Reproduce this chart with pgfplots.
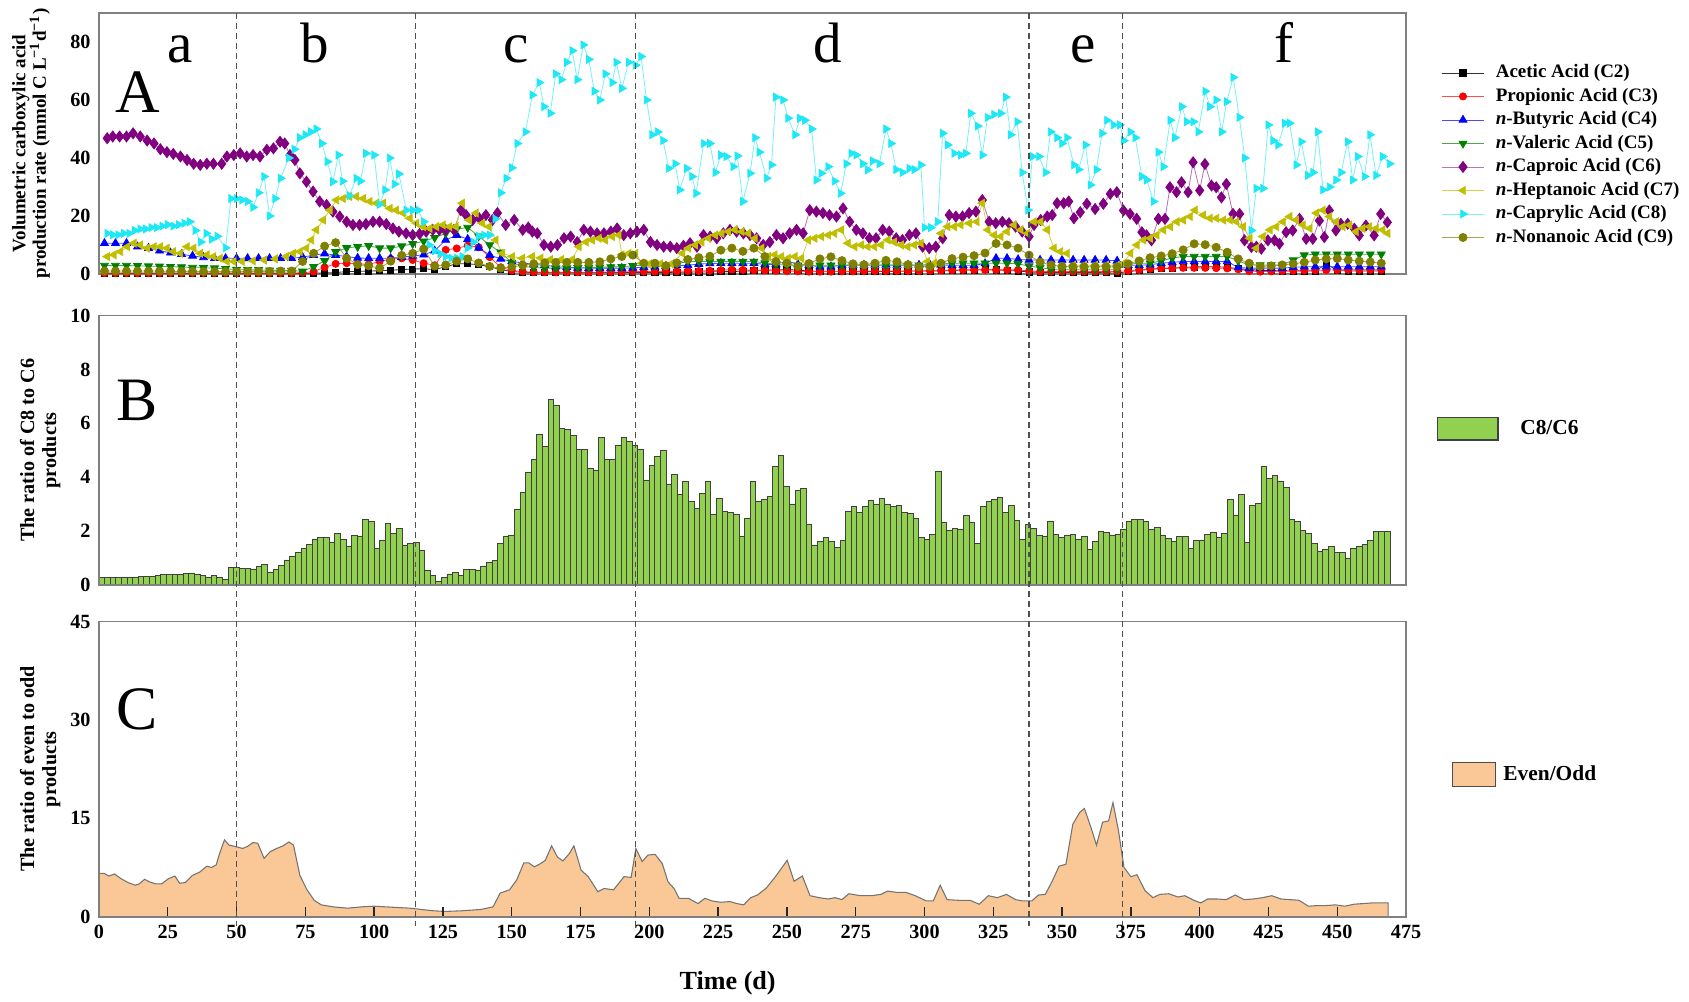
\documentclass[border=0pt]{standalone}
\usepackage{fontspec}
\setmainfont{Liberation Serif}
\usepackage{pgfplots}
\pgfplotsset{compat=1.18}
\usepackage{pgfplotstable}
\usetikzlibrary{calc}

\definecolor{cTwo}{HTML}{000000}
\definecolor{cThree}{HTML}{FF0000}
\definecolor{cFour}{HTML}{0000FF}
\definecolor{cFive}{HTML}{008000}
\definecolor{cSix}{HTML}{800080}
\definecolor{cSeven}{HTML}{BFBF00}
\definecolor{cEight}{HTML}{1EE8F5}
\definecolor{cNine}{HTML}{808000}
\definecolor{barGreen}{HTML}{92D050}
\definecolor{areaPeach}{HTML}{F9C896}
\definecolor{frameGray}{HTML}{808080}
\definecolor{vline}{HTML}{505050}

% low series, read every 4 d
\pgfplotstableread{
t c2 c3 c4 c5 c9
2 0.2 0.3 10.6 2.9 1.0
6 0.2 0.3 10.6 2.9 1.0
10 0.2 0.3 10.6 2.9 1.0
14 0.2 0.3 9.4 2.8 1.0
18 0.2 0.3 8.9 2.7 1.0
22 0.2 0.3 8.0 2.6 1.0
26 0.2 0.3 7.3 2.5 0.9
30 0.2 0.3 6.8 2.4 0.9
34 0.2 0.3 6.2 2.2 0.9
38 0.2 0.3 5.7 2.1 0.8
42 0.2 0.3 5.4 2.0 0.8
46 0.2 0.3 5.4 1.8 0.8
50 0.2 0.3 5.4 1.5 0.8
54 0.2 0.3 5.4 1.4 0.9
58 0.2 0.3 5.4 1.4 0.9
62 0.2 0.3 5.4 1.3 0.9
66 0.2 0.3 5.4 1.2 1.0
70 0.2 0.3 5.4 1.2 1.0
74 0.2 0.4 5.8 0.9 4.3
78 0.3 0.8 6.5 2.5 7.1
82 0.3 2.3 7.0 4.5 9.6
86 0.5 3.5 6.5 7.6 10.8
90 0.8 3.7 6.0 9.0 5.4
94 0.9 3.5 5.5 9.4 3.2
98 1.0 3.3 5.4 9.7 2.8
102 1.1 4.3 5.4 8.9 2.0
106 1.3 5.2 5.4 8.9 4.4
110 1.5 5.4 5.8 9.6 6.4
114 1.7 4.8 6.2 10.4 7.1
118 1.8 3.7 6.6 11.3 8.6
122 1.5 3.0 8.0 12.5 2.7
126 2.5 8.3 11.7 14.0 3.1
130 3.5 8.8 13.4 15.5 4.4
134 3.5 9.8 12.0 16.0 5.2
138 3.2 9.2 9.0 13.0 3.8
142 2.5 5.8 6.5 10.0 2.6
146 1.5 2.3 5.2 7.5 2.0
150 0.8 1.2 4.3 3.9 2.4
154 0.6 0.8 3.8 2.6 3.0
158 0.5 0.6 3.3 2.2 3.5
162 0.5 0.6 3.0 2.0 3.8
166 0.5 0.6 2.5 2.0 4.0
170 0.5 0.6 2.3 2.0 4.0
174 0.5 0.6 2.1 2.1 4.0
178 0.5 0.6 2.0 2.2 4.0
182 0.5 0.6 2.0 2.3 4.2
186 0.5 0.7 2.0 2.4 5.2
190 0.5 0.7 2.0 2.5 6.0
194 0.5 0.8 2.1 2.8 6.5
198 0.5 0.8 2.3 3.0 3.7
202 0.5 0.8 2.5 3.0 3.7
206 0.5 0.9 2.7 3.0 2.8
210 0.6 0.9 2.9 3.5 3.8
214 0.6 1.0 3.0 4.3 5.0
218 0.7 1.0 3.4 4.3 5.6
222 0.7 1.1 3.6 4.3 6.1
226 0.8 1.3 3.7 4.3 8.2
230 0.8 1.5 3.7 4.3 8.9
234 1.0 1.4 3.7 4.3 7.8
238 1.1 1.3 3.7 4.3 8.9
242 1.3 1.2 3.3 3.8 6.0
246 1.4 1.1 3.3 3.3 4.3
250 1.5 1.0 4.5 3.0 3.7
254 1.3 0.9 3.3 3.0 2.6
258 1.0 0.8 3.0 3.0 3.6
262 0.9 0.8 2.5 3.0 5.2
266 0.9 0.8 2.5 3.0 5.9
270 0.8 0.9 3.0 3.0 4.6
274 0.8 0.9 3.1 3.0 3.5
278 0.8 1.0 3.1 3.0 3.2
282 0.8 1.0 3.1 3.0 3.7
286 0.9 1.0 3.1 3.0 4.7
290 0.9 1.0 3.1 3.0 4.2
294 1.0 1.0 3.1 3.0 3.2
298 1.0 1.0 3.1 3.0 2.5
302 1.0 1.1 3.1 3.2 2.6
306 1.1 1.2 3.1 3.4 3.7
310 1.2 1.3 3.0 3.7 5.3
314 1.3 1.4 3.0 3.7 5.8
318 1.4 1.4 3.0 3.7 6.3
322 1.5 1.4 3.6 3.7 7.2
326 1.4 1.4 5.4 3.7 10.5
330 1.2 1.4 5.4 3.7 10.0
334 1.0 1.4 5.0 3.5 8.9
338 0.7 1.0 4.8 2.7 6.5
342 0.5 0.8 4.8 2.2 4.1
346 0.5 0.8 4.8 1.6 3.1
350 0.5 0.8 4.8 1.6 2.6
354 0.5 0.8 4.8 1.6 2.5
358 0.5 0.8 4.8 1.6 2.5
362 0.5 0.8 4.8 1.6 2.5
366 0.4 0.8 4.8 1.6 2.5
370 0.3 0.9 4.5 1.6 2.5
374 0.8 1.1 3.0 3.3 3.5
378 1.2 1.4 3.0 3.7 4.5
382 1.6 1.8 3.2 3.7 5.6
386 1.8 2.0 3.7 4.5 6.2
390 2.0 2.0 4.0 5.5 7.0
394 2.2 2.1 4.3 6.0 8.3
398 2.4 2.1 4.3 6.0 10.4
402 2.5 2.1 4.3 6.0 10.1
406 2.5 2.0 4.3 6.0 9.2
410 2.3 1.9 4.3 6.0 7.5
414 1.8 1.6 2.2 4.5 5.2
418 1.5 1.0 2.0 3.1 3.7
422 1.3 0.8 2.0 3.1 2.6
426 1.1 0.9 2.0 3.1 2.8
430 1.0 1.0 2.0 3.1 3.1
434 1.0 1.1 2.3 4.8 3.5
438 1.0 1.2 2.5 6.5 4.0
442 1.0 1.3 2.5 6.8 4.8
446 3.5 1.3 2.5 6.8 5.2
450 1.2 1.4 2.5 6.8 5.3
454 1.0 1.4 2.5 6.8 4.8
458 1.0 1.4 2.5 6.8 4.4
462 1.0 1.4 2.5 6.8 4.1
466 1.0 1.4 2.5 6.8 3.7
}\lowtab

% C8/C6 ratio
\pgfplotstableread{
t r
1.00 0.27
3.04 0.27
5.08 0.28
7.12 0.28
9.16 0.30
11.20 0.30
13.24 0.30
15.28 0.32
17.32 0.32
19.36 0.33
21.40 0.35
23.44 0.38
25.48 0.40
27.52 0.40
29.56 0.40
31.60 0.42
33.64 0.45
35.68 0.40
37.72 0.37
39.76 0.30
41.80 0.36
43.84 0.30
45.88 0.22
47.92 0.64
49.96 0.64
52.00 0.62
54.04 0.62
56.08 0.60
58.12 0.68
60.16 0.77
62.20 0.46
64.24 0.58
66.28 0.74
68.32 0.93
70.36 1.08
72.40 1.20
74.44 1.36
76.48 1.52
78.52 1.71
80.56 1.76
82.60 1.76
84.64 1.60
86.68 1.92
88.72 1.71
90.76 1.45
92.80 1.85
94.84 1.82
96.88 2.42
98.92 2.35
100.96 1.36
103.00 1.65
105.04 2.29
107.08 1.92
109.12 2.09
111.16 1.49
113.20 1.55
115.24 1.57
117.28 1.30
119.32 0.56
121.36 0.37
123.40 0.12
125.44 0.28
127.48 0.41
129.52 0.46
131.56 0.37
133.60 0.58
135.64 0.58
137.68 0.56
139.72 0.68
141.76 0.84
143.80 0.90
145.84 1.55
147.88 1.82
149.92 1.86
151.96 2.81
154.00 3.43
156.04 4.20
158.08 4.67
160.12 5.60
162.16 5.14
164.20 6.90
166.24 6.65
168.28 5.82
170.32 5.76
172.36 5.54
174.40 5.04
176.44 5.02
178.48 4.34
180.52 4.25
182.56 5.48
184.60 4.65
186.64 4.65
188.68 5.20
190.72 5.49
192.76 5.33
194.80 5.20
196.84 5.02
198.88 3.90
200.92 4.44
202.96 4.77
205.00 5.00
207.04 3.72
209.08 4.09
211.12 3.37
213.16 3.84
215.20 3.10
217.24 2.85
219.28 3.40
221.32 3.84
223.36 2.63
225.40 3.22
227.44 2.73
229.48 2.70
231.52 2.63
233.56 1.82
235.60 2.48
237.64 3.84
239.68 3.10
241.72 3.18
243.76 3.28
245.80 4.40
247.84 4.81
249.88 3.66
251.92 3.01
253.96 3.51
256.00 3.57
258.04 2.27
260.08 1.49
262.12 1.61
264.16 1.76
266.20 1.61
268.24 1.40
270.28 1.65
272.32 2.75
274.36 2.91
276.40 2.70
278.44 2.91
280.48 3.16
282.52 3.01
284.56 3.20
286.60 3.01
288.64 2.91
290.68 2.95
292.72 2.70
294.76 2.66
296.80 2.48
298.84 1.76
300.88 1.70
302.92 1.88
304.96 4.21
307.00 2.32
309.04 2.02
311.08 2.10
313.12 2.08
315.16 2.57
317.20 2.32
319.24 1.55
321.28 2.91
323.32 3.10
325.36 3.18
327.40 3.25
329.44 2.70
331.48 2.97
333.52 2.39
335.56 1.70
337.60 2.26
339.64 2.10
341.68 1.86
343.72 1.82
345.76 2.38
347.80 1.88
349.84 1.76
351.88 1.83
353.92 1.88
355.96 1.71
358.00 1.80
360.04 1.33
362.08 1.61
364.12 2.00
366.16 1.96
368.20 1.86
370.24 1.88
372.28 2.08
374.32 2.35
376.36 2.42
378.40 2.42
380.44 2.35
382.48 2.07
384.52 2.13
386.56 1.86
388.60 1.73
390.64 1.61
392.68 1.80
394.72 1.80
396.76 1.36
398.80 1.67
400.84 1.65
402.88 1.88
404.92 1.96
406.96 1.77
409.00 1.90
411.04 3.18
413.08 2.57
415.12 3.37
417.16 1.57
419.20 2.95
421.24 3.04
423.28 4.40
425.32 3.97
427.36 4.06
429.40 3.84
431.44 3.62
433.48 2.44
435.52 2.35
437.56 2.02
439.60 1.92
441.64 1.55
443.68 1.24
445.72 1.33
447.76 1.43
449.80 1.21
451.84 1.21
453.88 0.99
455.92 1.36
457.96 1.45
460.00 1.52
462.04 1.67
464.08 1.98
466.12 1.98
468.16 1.98
}\ratiotab

% even/odd ratio
\pgfplotstableread{
t e
0 6.6
1.9 6.6
3.6 6.2
5.7 6.5
8.0 5.8
10.6 5.2
13.2 4.8
14.6 5.0
16.6 5.7
18.4 5.3
20.6 5.0
22.7 5.0
25.3 5.8
27.6 6.2
29.3 5.1
31.4 5.2
34.0 6.3
36.6 6.8
39.2 7.7
40.9 7.5
42.6 7.9
43.8 9.6
45.6 11.7
47.3 10.9
49.6 10.7
52.2 10.4
53.9 10.7
56.0 11.3
57.7 11.2
60.0 8.9
62.2 9.9
64.6 10.4
66.9 10.8
69.0 11.4
70.7 10.9
73.0 6.3
75.6 4.1
78.2 2.5
80.8 1.8
85.1 1.5
90.3 1.3
95.5 1.5
99.8 1.6
104.2 1.5
108.5 1.4
112.8 1.3
117.2 1.1
121.5 0.9
125.8 0.8
131.9 0.9
138.8 1.1
143.2 1.5
145.8 3.6
149.2 4.1
151.8 5.6
154.4 8.2
156.2 8.2
158.2 7.6
160.5 8.1
162.2 8.6
164.5 10.8
166.6 9.1
168.6 8.5
170.9 9.6
172.6 10.8
175.2 7.1
177.8 6.1
181.3 3.8
183.5 4.3
187.0 4.1
190.8 6.1
193.4 6.0
195.1 10.4
197.4 8.4
199.5 9.4
202.1 9.5
204.7 8.1
206.8 5.3
209.0 4.3
210.8 2.8
214.2 2.8
217.7 2.0
220.2 2.8
222.8 2.4
226.0 2.2
229.3 2.3
231.8 2.0
234.3 1.8
236.8 2.9
239.3 3.3
242.6 4.4
246.0 6.2
250.1 8.6
252.6 5.4
255.6 6.2
258.4 3.2
261.7 2.9
265.0 2.7
267.5 2.9
270.0 2.6
272.5 3.5
276.7 3.2
280.8 3.2
284.1 3.4
286.6 3.9
290.0 3.7
293.3 3.7
296.6 3.2
300.7 2.4
303.2 2.4
305.7 4.8
308.2 2.6
312.4 2.5
316.5 2.5
319.9 1.9
323.2 3.2
326.5 2.9
329.8 3.4
333.1 2.6
335.6 2.4
339.0 2.4
341.4 3.3
343.9 3.4
346.4 5.4
348.9 7.7
351.4 8.0
353.9 14.1
356.4 15.9
358.1 16.5
360.5 13.6
362.5 10.9
364.7 14.4
366.9 14.6
368.5 17.4
370.5 13.1
372.5 7.5
375.0 6.1
377.2 6.4
380.1 4.0
383.0 2.9
385.5 3.4
388.8 3.5
392.1 3.0
394.6 3.2
397.9 2.5
400.4 2.1
402.9 2.7
406.2 2.7
409.6 2.6
412.9 3.3
416.2 2.6
419.5 2.7
422.8 2.9
426.2 3.2
429.5 2.7
432.8 2.6
436.1 2.5
439.5 1.6
442.8 1.7
446.1 1.7
449.4 1.8
452.7 1.6
456.1 1.9
459.4 2.0
462.7 2.1
466.0 2.1
468.5 2.1
}\evenoddtab

\pgfplotsset{
  panel/.style={
    scale only axis, width=19.346cm,
    xmin=0, xmax=475, ymin=0,
    axis line style={frameGray, line width=0.7pt},
    tick label style={font=\fontsize{8.5}{9}\selectfont\bfseries},
    /pgf/number format/assume math mode=true,
    ytick style={draw=none},
    tick align=inside,
  },
  acid/.style={line width=0.35pt, mark options={solid, draw=#1, fill=#1}},
}

\begin{document}
\begin{tikzpicture}

% ---------- A ----------
\begin{axis}[panel, at={(0cm,0cm)}, anchor=north west,
  height=3.863cm, ymax=90, ytick={0,20,40,60,80},
  xtick=\empty,
  ylabel={Volumetric carboxylic acid\\production rate (mmol C L\textsuperscript{−1}d\textsuperscript{−1})},
  ylabel style={at={(axis description cs:-0.052,0.5)}, anchor=center, align=center,
    font=\fontsize{8}{8.6}\selectfont\bfseries},
  legend style={at={(1.021,0.455)}, anchor=west, draw=none, fill=none,
    font=\fontsize{8}{9}\selectfont\bfseries, cells={anchor=west},
    nodes={inner sep=0pt, text height=5.8pt, text depth=1.6pt},
    row sep=2.5pt, /tikz/every odd column/.append style={column sep=4.6pt}},
  legend image code/.code={\draw[mark repeat=2, mark phase=2, #1]
    plot coordinates {(0cm,0cm) (0.318cm,0cm) (0.636cm,0cm)};},
]
\addplot[cTwo!80, acid=cTwo, mark=square*, mark size=1.3pt] table[x=t, y=c2] {\lowtab};
\addlegendentry{Acetic Acid (C2)}
\addplot[cThree!70, acid=cThree, mark=*, mark size=1.5pt] table[x=t, y=c3] {\lowtab};
\addlegendentry{Propionic Acid (C3)}
\addplot[cFour!70, acid=cFour, mark=triangle*, mark size=1.9pt] table[x=t, y=c4] {\lowtab};
\addlegendentry{\textit{n}-Butyric Acid (C4)}
\addplot[cFive!70, mark=triangle*, mark size=1.9pt, line width=0.35pt,
  mark options={solid, draw=cFive, fill=cFive, rotate=180}] table[x=t, y=c5] {\lowtab};
\addlegendentry{\textit{n}-Valeric Acid (C5)}
\addplot[cSix!55, acid=cSix, mark=diamond*, mark size=2.3pt] coordinates {
(3,46.8)(5,47.4)(7.5,47.4)(10,47.4)(12.4,48.5)(15,47.4)(17.5,46)(20,45)(22.3,43)(24.7,42)
(27,41.4)(29.6,40.5)(32,39.3)(34.4,38)(36.8,37.6)(39.2,38)(41.6,38)(44.6,38)(46.5,40.5)(49,41)
(51.3,41.6)(53.7,40.5)(56,41)(58.5,40.5)(61,42.8)(63.4,43.3)(65.8,45.6)(67.5,45)(69.4,41)(71.2,39.3)
(73,34.7)(75.4,31.8)(77.8,28.4)(80.2,25)(82.7,23.8)(85,21.5)(87.5,19.8)(90,18)(92.3,16.9)(94.7,16.9)
(97,17.2)(99.6,18)(102,18)(104.4,17.2)(106.8,15.7)(109,14.6)(111.6,14)(114,13.4)(116.5,13.8)(118.9,14.6)
(121.3,15.2)(123.7,15.2)(126,15.2)(129,15.2)(131.5,22)(133.4,20.3)(135.8,18.6)(138.2,19.2)(140.6,20.3)(143,18.6)
(144.8,21)(147.8,16.9)(150.9,18.6)(154,15.2)(156,16)(157.5,14.6)(159.3,14)(161.7,10)(164.2,9.4)(166.6,10)
(169,12.3)(171.4,12.9)(173.8,11)(176.2,15.2)(178.6,14.6)(181,14)(183.5,14)(186,14.6)(188.3,15.7)(190.7,13.4)
(193.1,14)(195.5,14.6)(198,15.2)(200.4,11)(202.8,10)(205.2,9.4)(207.6,9.4)(210,8.9)(212.4,9.7)(214.8,10.6)
(217.3,9.4)(219.7,13.4)(222.1,12.9)(224.5,12.3)(226.9,14)(229.3,15.2)(231.7,14.6)(234.2,14)(236.6,13.4)(239,12.3)
(241.4,10)(243.8,11)(246.2,13.4)(248.6,12.3)(251,14)(253.5,15.2)(255.9,14)(258.3,22)(260.7,21.5)(263.1,21)
(265.5,20.3)(268,19.8)(270.4,22.6)(272.8,18)(275.2,15.2)(277.6,14)(280,12.3)(282.4,12.3)(284.8,15.2)(287.2,14.6)
(289.7,12.3)(292,11.7)(294.5,13.4)(296.9,14)(299.3,9.4)(301.7,8.9)(304.1,9.4)(306.6,12.3)(309,20.3)(311.4,19.8)
(313.8,19.8)(316.2,21)(318.7,21.5)(321,25.5)(323.5,18)(325.9,17.5)(328.3,18)(330.7,17.5)(333.1,16.3)(335.5,14.6)
(338,12.9)(339.8,16.9)(342.2,18.6)(344.6,19.8)(346.4,20.3)(348.2,24.4)(350.6,24.4)(352.4,25)(354.3,19.2)(356.6,21.3)
(359,24.2)(362,22.4)(365,24.2)(367.5,27.6)(369.9,28.2)(372.3,21.9)(374.7,20.7)(377.1,19)(379,14.4)(380.7,13.3)
(382.5,11.6)(385,19)(387.4,19)(389.2,29.9)(391.6,28.2)(393.4,31.6)(395.8,28.2)(397.6,38.5)(400,28.8)(401.9,37.9)
(404.3,30.5)(406,29.9)(407.9,26.4)(409.7,31)(412.1,20.7)(414.5,20.7)(416.3,11.6)(418.8,9.3)(420.6,9.4)(422.4,8.7)
(424.8,11.6)(427.2,11.6)(429,10.4)(431.4,14.4)(433.8,15)(436.3,19)(438.7,12.1)(441.1,12.1)(443.5,18.4)(445.3,12.7)
(447.1,21.9)(449.5,15)(451.3,17.3)(453.8,17.3)(456.2,15.6)(458,13.3)(460.4,16.7)(463.4,13.3)(465.8,20.7)(468.2,17.8)
};
\addlegendentry{\textit{n}-Caproic Acid (C6)}
\addplot[cSeven!70, mark=triangle*, mark size=1.9pt, line width=0.35pt,
  mark options={solid, draw=cSeven, fill=cSeven, rotate=90}] coordinates {
(3,6)(5.4,6.6)(7.8,7.7)(10.3,9.4)(12.7,10.6)(15,10)(17.5,8.9)(20,9.4)(22.3,9.4)(24.7,8.9)
(27,7.7)(29.6,7.1)(32,9.4)(34.4,8.9)(36.8,7.1)(39.2,6.6)(41.6,6)(44,5.4)(46.5,4.3)(49,4.3)
(52,4.3)(56,4.5)(60,4.8)(64,5.2)(68,6)(70.6,7.1)(73,7.7)(75.4,8.9)(77.2,11.7)(79,15.2)
(81.5,18.6)(83.9,22)(86.3,25.5)(88.7,26)(91,26.7)(93.5,26.7)(96,26)(98.4,25)(100.8,24.4)(103.3,24.4)
(105.7,22.6)(108,22)(110.5,21)(113,19.2)(115.4,17.5)(117.8,16.3)(120.2,15.7)(122.6,16.3)(125,16.9)(127.4,16.3)
(129.7,16.3)(132,24.4)(134.5,18.6)(137,21)(139.3,17.5)(141.7,16.3)(144.2,11.7)(146.6,7.1)(150.2,6)(153.8,5.4)
(157.4,6)(160.5,5.5)(164,5)(168,5)(172,5)(174.4,9.4)(177,11)(179.2,11.7)(181.7,12.3)(184,11.7)
(186.5,12.9)(188.9,13.4)(190,6.6)(192.5,7.1)(195,7.1)(197.3,3.7)(200,3.5)(204,3.5)(208,3.5)(212,7.1)
(214.2,8.9)(216.7,10)(219,11)(221.5,12.3)(224,13.4)(226.3,14)(228.7,14.6)(231.1,15.2)(233.6,14.6)(236,14)
(238.4,12.3)(240.8,8.9)(243.2,6)(245.6,6.6)(248,6)(250.4,5.4)(252.9,6)(255.3,5.4)(257.7,11.7)(260.1,12.3)
(262.5,12.9)(265,13.4)(267.3,14)(269.8,15.2)(272.2,10.6)(274.6,9.4)(277,10)(279.4,9.4)(281.8,9.4)(284.2,10)
(286.7,11.7)(289,11)(291.5,10)(293.9,9.4)(296.3,10)(298.7,10.6)(301.1,4.3)(303.5,3.7)(306,14)(308.4,16.3)
(310.8,16.3)(313.2,16.9)(316.2,17.5)(319,18)(321,24.4)(323,15.2)(325.3,13.4)(327.7,12.9)(330,14.6)(332.5,16.9)
(335,15.2)(337.4,14)(339.8,18)(342.2,18)(344.6,15.2)(347,8.9)(349.4,7.7)(351.8,7.1)(354,3)(358,3)
(362,3)(366,3)(370,3)(372.4,3.7)(374.8,7.1)(377.2,10)(379.6,11.7)(382,12.3)(384.4,13.4)(386.8,15.2)
(389.3,16.3)(391.7,18)(394,18.6)(396.5,19.8)(398.3,22)(401.3,20.3)(403.7,19.2)(406.1,19.2)(408.6,18.6)(411,18.6)
(413.4,18)(415.8,16.3)(418.2,12.3)(420.6,8.9)(423,12.9)(425.5,15.2)(427.9,16.3)(430.3,18)(432.7,19.8)(435.1,18.6)
(437.5,16.9)(440,15.7)(442.4,21)(444.8,22)(447.2,19.8)(449.6,18)(452,16.3)(454.4,16.9)(456.8,14.6)(459.2,15.7)
(461.7,16.3)(464.1,15.7)(466.5,15.2)(468.3,14)
};
\addlegendentry{\textit{n}-Heptanoic Acid (C7)}
\addplot[cEight!60, mark=triangle*, mark size=1.9pt, line width=0.35pt,
  mark options={solid, draw=cEight, fill=cEight, rotate=-90}] coordinates {
(3,14)(5,13.5)(7,13.5)(9,14)(11,14)(13,15)(15,15.5)(17,15.5)(19,16)(21,16)
(23,16.5)(25,17)(27,16.5)(29,17)(31,17.5)(33,18)(35,15)(37,11)(39,14)(41,12)
(43,13)(46,9)(48,26)(50,26)(52,25.5)(54,25)(56,23)(58,28)(60,33.6)(62,20)
(64,26)(66,33)(69,40)(71,43)(73,47)(75,48)(77,49)(79,50)(81,45)(83,38.7)
(85,31.8)(87,41)(88.5,32)(91,27)(93.5,33)(95,32)(97,41.6)(100,41)(102,24)(104,29)
(105.6,40)(107.4,31)(109,34.5)(111.7,22)(114,22)(116,22)(118,18)(120,10)(122,8)(124,7)
(126,6)(128,5.5)(130,5.5)(132,6)(134,9)(136,11)(138,13)(140,13.4)(142,13.4)(144,19)
(146,28)(148,33)(150,36.6)(152,45)(155,49)(157.5,61.7)(160,66)(161.7,57.7)(164,55.4)(166,69)
(168,67)(170,73)(172,77)(173.8,67)(176,79)(178,74)(180,63)(182,60)(184,69)(186.5,66)
(188,73)(190,64)(192.5,73)(195,72)(197,75)(199,60)(201,48)(203,49)(205,46)(207,36.4)
(209.4,38)(211,29)(213.6,36.4)(215.5,33.6)(217,27.8)(219.7,45)(222,45)(224,35)(226,41)(228,40.5)
(230.5,37)(232,40.7)(234,25)(236.6,34.7)(238.4,47)(240,42)(242.6,33)(244.4,37.6)(246,61)(248.6,60)
(250.4,53.7)(253,48)(254.7,53.7)(256.5,53)(259,50)(260.7,32.4)(262.5,34.7)(265,37)(267.3,32)(269.5,27.8)
(271.6,38)(273.4,41.6)(275.2,41)(277.6,38)(279.4,35.9)(281.2,39)(283.6,38)(286,50)(287.8,45)(289.7,36)
(292,35)(294.5,36.4)(296.3,36)(298.7,37.6)(300,16)(302.3,16)(304.8,18)(306.6,48.5)(308.4,44.5)(310.8,41.6)
(313.2,41)(315,41.6)(316.8,55.4)(319.3,51)(321,41)(322.9,54)(325.3,55)(327.7,55.4)(329.5,61)(331.3,48)
(333.7,52.5)(335.5,35)(337.6,22)(339.2,40.5)(341.6,40.5)(344,35)(345.8,49)(348.2,47)(350,45)(351.8,47)
(354.3,37.6)(356,36)(358.5,44.5)(360.3,30.7)(362.5,36)(364.5,48.5)(366.3,53)(368.7,51.4)(371,51.4)(372.4,46)
(374.8,49)(376.6,47)(379,33.6)(380.8,32.4)(383.2,25)(385,42)(386.8,37)(389.3,53)(391,47)(393.5,57.7)
(395.3,52.5)(397.7,52.5)(399.5,49)(402,63)(403.7,57.7)(406,60)(408,49)(409.8,59.4)(412.2,67.8)(414.4,54)
(416.4,40)(418.8,15)(420.6,29.5)(423,29.5)(424.9,51.4)(426.7,46)(428.5,44.5)(430.9,52)(432.7,52)(435.1,37.6)
(436.9,45.6)(439.3,34)(441.2,35)(442.9,49)(444.8,29)(447.2,30)(449.6,32.4)(451.4,35)(453.8,45.6)(455.6,32.4)
(457.4,40.5)(459.9,33.6)(461.9,48)(464.1,34)(466.5,40.5)(469,38)
};
\addlegendentry{\textit{n}-Caprylic Acid (C8)}
\addplot[cNine!70, acid=cNine, mark=*, mark size=1.7pt] table[x=t, y=c9] {\lowtab};
\addlegendentry{\textit{n}-Nonanoic Acid (C9)}

\node[font=\fontsize{24}{24}\selectfont, anchor=base] at (axis cs:29.4,72.8) {a};
\node[font=\fontsize{24}{24}\selectfont, anchor=base] at (axis cs:78.5,72.8) {b};
\node[font=\fontsize{24}{24}\selectfont, anchor=base] at (axis cs:151.5,72.8) {c};
\node[font=\fontsize{24}{24}\selectfont, anchor=base] at (axis cs:264.7,72.8) {d};
\node[font=\fontsize{24}{24}\selectfont, anchor=base] at (axis cs:357.7,72.8) {e};
\node[font=\fontsize{24}{24}\selectfont, anchor=base] at (axis cs:430.5,72.8) {f};
\node[font=\fontsize{26}{26}\selectfont, anchor=base] at (axis cs:14,55.7) {A};

\coordinate (dA1) at (axis cs:50,90);
\coordinate (dA2) at (axis cs:115,90);
\coordinate (dA3) at (axis cs:195,90);
\coordinate (dA4) at (axis cs:338,90);
\coordinate (dA5) at (axis cs:372,90);
\end{axis}

% ---------- B ----------
\begin{axis}[panel, at={(0cm,-4.479cm)}, anchor=north west,
  height=3.988cm, ymax=10, ytick={0,2,4,6,8,10},
  xtick=\empty, axis on top,
  ylabel={The ratio of C8 to C6\\products},
  ylabel style={at={(axis description cs:-0.045,0.5)}, anchor=center, align=center,
    font=\fontsize{8.5}{9.2}\selectfont\bfseries},
  legend style={at={(1.0175,0.58)}, anchor=west, draw=none, fill=none,
    font=\fontsize{9}{10}\selectfont\bfseries, nodes={inner sep=0pt},
    /tikz/every odd column/.append style={column sep=9.2pt}},
]
\addplot[ybar, bar width=2.04, bar shift=0pt, fill=barGreen, draw=black!75, line width=0.3pt,
  legend image code/.code={\draw[fill=barGreen, draw=black!75, line width=0.5pt]
    (0cm,-0.167cm) rectangle (0.9cm,0.167cm);}]
  table[x=t, y=r] {\ratiotab};
\addlegendentry{C8/C6}
\node[font=\fontsize{26}{26}\selectfont, anchor=base] at (axis cs:13.8,6.1) {B};
\end{axis}

% ---------- C ----------
\begin{axis}[panel, at={(0cm,-9.007cm)}, anchor=north west,
  height=4.369cm, ymax=45, ytick={0,15,30,45},
  xtick={0,25,...,475}, xtick pos=left, axis on top,
  xtick style={draw=black!85, line width=0.6pt}, major tick length=4pt,
  xlabel={Time (d)},
  xlabel style={at={(axis description cs:0.481,0)}, anchor=center, yshift=-0.99cm,
    font=\fontsize{11}{12}\selectfont\bfseries},
  ylabel={The ratio of even to odd\\products},
  ylabel style={at={(axis description cs:-0.045,0.5)}, anchor=center, align=center,
    font=\fontsize{8.5}{9.2}\selectfont\bfseries},
  legend style={at={(1.0295,0.482)}, anchor=west, draw=none, fill=none,
    font=\fontsize{9}{10}\selectfont\bfseries, nodes={inner sep=0pt},
    /tikz/every odd column/.append style={column sep=3pt}},
]
\addplot[fill=areaPeach, draw=black!55, line width=0.45pt,
  legend image code/.code={\draw[fill=areaPeach, draw=black!70, line width=0.5pt]
    (0cm,-0.175cm) rectangle (0.636cm,0.175cm);}]
  table[x=t, y=e] {\evenoddtab} \closedcycle;
\addlegendentry{Even/Odd}
\node[font=\fontsize{26}{26}\selectfont, anchor=base] at (axis cs:13.7,28.6) {C};

\coordinate (dC1) at (axis cs:50,0);
\coordinate (dC2) at (axis cs:115,0);
\coordinate (dC3) at (axis cs:195,0);
\coordinate (dC4) at (axis cs:338,0);
\coordinate (dC5) at (axis cs:372,0);
\end{axis}

\foreach \i in {1,...,5}
  \draw[vline, line width=0.6pt, dash pattern=on 2.5pt off 1.7pt] (dA\i) -- ([yshift=-0.17cm]dC\i);

\pgfresetboundingbox
\path (-1.465cm,0.192cm) rectangle (23.534cm,-14.624cm);
\end{tikzpicture}
\end{document}
